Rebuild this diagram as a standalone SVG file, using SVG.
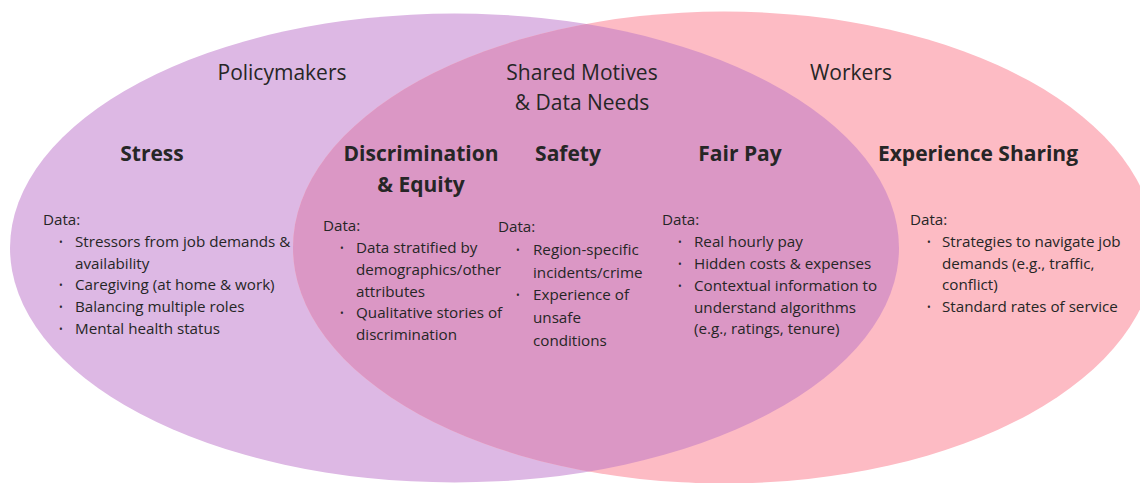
<svg xmlns="http://www.w3.org/2000/svg" width="1140" height="483" viewBox="0 0 1140 483">
<style>
.t{font-family:"Open Sans","Liberation Sans",sans-serif;fill:#262626}
.title{font-size:21px;text-anchor:middle}
.head{font-size:21px;font-weight:bold;text-anchor:middle}
.d{font-size:15.2px}
.b{font-size:10px}
</style>
<defs>
<clipPath id="leftClip"><ellipse cx="454.5" cy="248" rx="444.5" ry="234.5"/></clipPath>
</defs>
<g id="sets">
<ellipse id="policymakers-set" cx="454.5" cy="248" rx="444.5" ry="234.5" fill="#DDB8E4"/>
<ellipse id="workers-set" cx="724" cy="247.5" rx="431" ry="236" fill="#FDBBC4"/>
<ellipse id="shared-set" cx="724" cy="247.5" rx="431" ry="236" fill="#DB97C5" clip-path="url(#leftClip)"/>
</g>
<g id="set-titles" class="t">
<text class="t title" x="282" y="80">Policymakers</text>
<text class="t title" x="582" y="80">Shared Motives</text>
<text class="t title" x="582" y="110">&amp; Data Needs</text>
<text class="t title" x="851" y="80">Workers</text>
</g>
<g id="stress">
<text class="t head" x="152" y="161">Stress</text>
<text class="t d" x="43" y="225">Data:</text>
<text class="t b" x="59" y="246">•</text><text class="t d" x="75" y="247">Stressors from job demands &amp;</text>
<text class="t d" x="75" y="269">availability</text>
<text class="t b" x="59" y="289">•</text><text class="t d" x="75" y="290">Caregiving (at home &amp; work)</text>
<text class="t b" x="59" y="311">•</text><text class="t d" x="75" y="312">Balancing multiple roles</text>
<text class="t b" x="59" y="333">•</text><text class="t d" x="75" y="334">Mental health status</text>
</g>
<g id="discrimination">
<text class="t head" x="421" y="161">Discrimination</text>
<text class="t head" x="421" y="192">&amp; Equity</text>
<text class="t d" x="323" y="231">Data:</text>
<text class="t b" x="340" y="252">•</text><text class="t d" x="356" y="253">Data stratified by</text>
<text class="t d" x="356" y="275">demographics/other</text>
<text class="t d" x="356" y="297">attributes</text>
<text class="t b" x="340" y="317">•</text><text class="t d" x="356" y="318">Qualitative stories of</text>
<text class="t d" x="356" y="340">discrimination</text>
</g>
<g id="safety">
<text class="t head" x="568" y="161">Safety</text>
<text class="t d" x="498" y="232">Data:</text>
<text class="t b" x="516" y="254">•</text><text class="t d" x="533" y="255">Region-specific</text>
<text class="t d" x="533" y="278">incidents/crime</text>
<text class="t b" x="516" y="299">•</text><text class="t d" x="533" y="300">Experience of</text>
<text class="t d" x="533" y="323">unsafe</text>
<text class="t d" x="533" y="346">conditions</text>
</g>
<g id="fair-pay">
<text class="t head" x="740" y="161">Fair Pay</text>
<text class="t d" x="662" y="225">Data:</text>
<text class="t b" x="678" y="246">•</text><text class="t d" x="694" y="247">Real hourly pay</text>
<text class="t b" x="678" y="268">•</text><text class="t d" x="694" y="269">Hidden costs &amp; expenses</text>
<text class="t b" x="678" y="290">•</text><text class="t d" x="694" y="291">Contextual information to</text>
<text class="t d" x="694" y="313">understand algorithms</text>
<text class="t d" x="694" y="334">(e.g., ratings, tenure)</text>
</g>
<g id="experience-sharing">
<text class="t head" x="978" y="161">Experience Sharing</text>
<text class="t d" x="910" y="225">Data:</text>
<text class="t b" x="927" y="246">•</text><text class="t d" x="942" y="247">Strategies to navigate job</text>
<text class="t d" x="942" y="269">demands (e.g., traffic,</text>
<text class="t d" x="942" y="290">conflict)</text>
<text class="t b" x="927" y="311">•</text><text class="t d" x="942" y="312">Standard rates of service</text>
</g>
</svg>
